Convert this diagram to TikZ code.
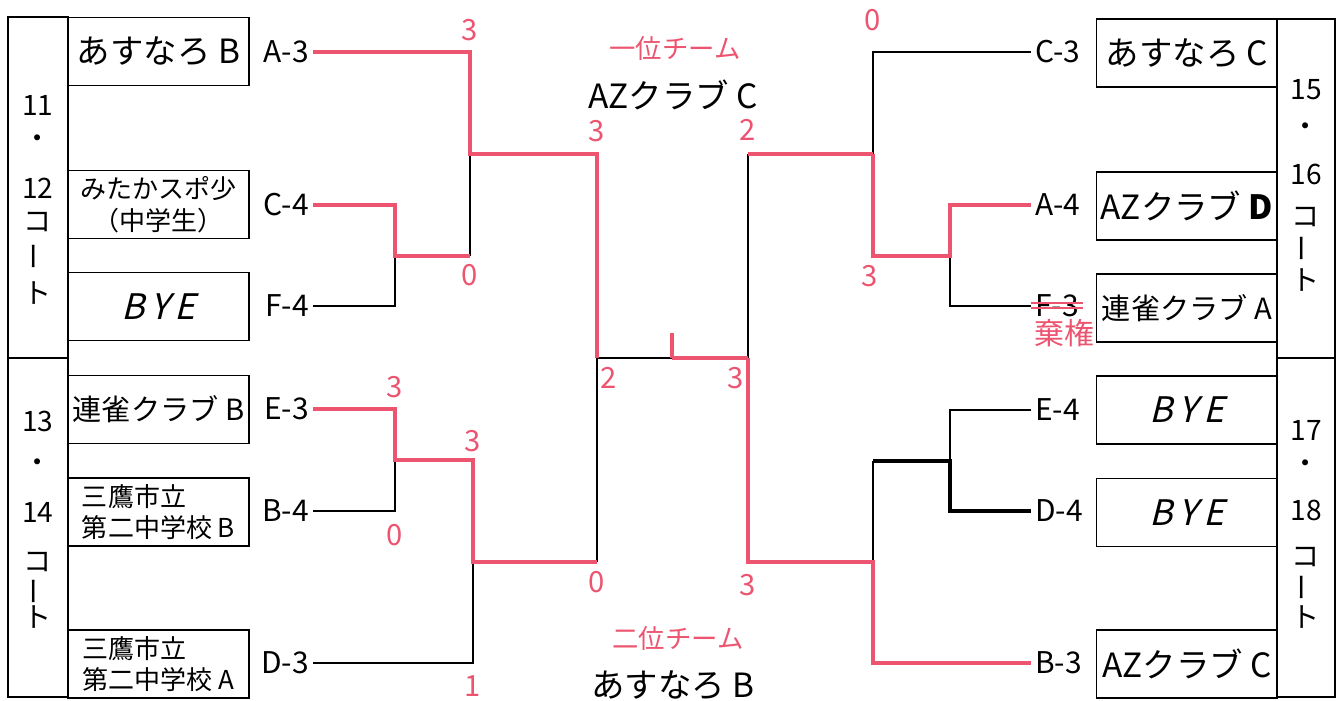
\documentclass[tikz,border=0pt]{standalone}
\usepackage{fontspec}
\setmainfont{Noto Sans CJK JP}
\newfontfamily\byefont[FakeSlant=0.25]{Noto Sans CJK JP}
\definecolor{rd}{RGB}{236,84,112}

\begin{document}
\begin{tikzpicture}[x=0.01cm, y=-0.01cm,
  team/.style={draw, line width=0.5pt, minimum width=1.81cm, minimum height=0.68cm, inner sep=0pt, align=center},
  big/.style={font=\fontsize{9.5}{10}\selectfont},
  mid/.style={font=\fontsize{8.3}{10}\selectfont},
  small/.style={font=\fontsize{7.4}{9}\selectfont},
  court/.style={font=\fontsize{8}{9}\selectfont},
  lbl/.style={inner sep=1pt, font=\fontsize{8.5}{9}\selectfont},
  sc/.style={text=rd, inner sep=0pt, font=\fontsize{8.3}{9}\selectfont},
  win/.style={draw=rd, line width=0.9pt},
  lose/.style={draw=black, line width=0.45pt},
  bye/.style={font=\fontsize{10}{11}\byefont}]
\useasboundingbox (0,0) rectangle (1341,701);

%% 左右两侧的コート框
\draw[line width=0.5pt] (8,17) rectangle (68,358);
\draw[line width=0.5pt] (8,358) rectangle (68,697);
\draw[line width=0.5pt] (1277,19) rectangle (1335,358);
\draw[line width=0.5pt] (1277,358) rectangle (1335,697);

\foreach \t/\y [count=\i] in {11/105, ・/142, 12/188, コ/222, ト/293}
  \node[court] (cA\i) at (38,\y) {\t};
\node[court, rotate=90] (cA6) at (38,256) {ー};
\foreach \t/\y [count=\i] in {13/421, ・/466, 14/512, コ/562, ト/617}
  \node[court] (cB\i) at (38,\y) {\t};
\node[court, rotate=90] (cB6) at (38,591) {ー};
\foreach \t/\y [count=\i] in {15/90, ・/130, 16/174, コ/217, ト/280}
  \node[court] (cC\i) at (1306,\y) {\t};
\node[court, rotate=90] (cC6) at (1306,248) {ー};
\foreach \t/\y [count=\i] in {17/430, ・/467, 18/510, コ/557, ト/617}
  \node[court] (cD\i) at (1306,\y) {\t};
\node[court, rotate=90] (cD6) at (1306,587) {ー};

%% 队伍
\node[team, big] (L1) at (158.5,51.5) {あすなろ B};
\node[team, small] (L2) at (158.5,204.5) {みたかスポ少\\（中学生）};
\node[team, bye] (L3) at (158.5,306.5) {B\,Y\,E};
\node[team, mid] (L4) at (158.5,409.5) {連雀クラブ B};
\node[team, small, align=left] (L5) at (158.5,512) {三鷹市立\\第二中学校 B};
\node[team, small, align=left] (L6) at (158.5,664) {三鷹市立\\第二中学校 A};

\node[team, big] (R1) at (1187,53) {あすなろ C};
\node[team, big] (R2) at (1187,206) {AZクラブ \textbf{D}};
\node[team, mid] (R3) at (1187,308) {連雀クラブ A};
\node[team, bye] (R4) at (1187,410) {B\,Y\,E};
\node[team, bye] (R5) at (1187,512.5) {B\,Y\,E};
\node[team, big] (R6) at (1187,664) {AZクラブ C};

\node[lbl, anchor=east] (lA3) at (313,52) {A-3};
\node[lbl, anchor=east] (lC4) at (313,205) {C-4};
\node[lbl, anchor=east] (lF4) at (313,306) {F-4};
\node[lbl, anchor=east] (lE3) at (313,409) {E-3};
\node[lbl, anchor=east] (lB4) at (313,511) {B-4};
\node[lbl, anchor=east] (lD3) at (313,663) {D-3};

\node[lbl, anchor=west] (rC3) at (1031,52) {C-3};
\node[lbl, anchor=west] (rA4) at (1031,205) {A-4};
\node[lbl, anchor=west] (rF3) at (1031,306) {F-3};
\node[lbl, anchor=west] (rE4) at (1031,410) {E-4};
\node[lbl, anchor=west] (rD4) at (1031,511) {D-4};
\node[lbl, anchor=west] (rB3) at (1031,663) {B-3};

%% 对阵线的拐点
\coordinate (s1) at (470,154);
\coordinate (q1) at (395,256);
\coordinate (q1r) at (470,256);
\coordinate (f1) at (597,154);
\coordinate (c1) at (597,358);
\coordinate (m) at (672,358);
\coordinate (c2) at (748,358);
\coordinate (f2) at (748,154);
\coordinate (s2) at (873,154);
\coordinate (s2b) at (873,256);
\coordinate (q2) at (950,256);
\coordinate (q3) at (395,460);
\coordinate (s3t) at (473,460);
\coordinate (s3) at (473,562);
\coordinate (f3) at (597,562);
\coordinate (f4) at (748,562);
\coordinate (s4) at (873,562);
\coordinate (s4t) at (873,461);
\coordinate (q4) at (950,461);

%% 输的一方(黑线)先画
\draw[lose] (lF4.east) -| (q1);
\draw[lose] (q1r) -- (s1);
\draw[lose] (c1) -- (m);
\draw[lose] (f2) -- (c2);
\draw[lose] (rC3.west) -| (s2);
\draw[lose] (q2) |- (rF3.west);
\draw[lose] (lB4.east) -| (q3);
\draw[lose] (lD3.east) -| (s3);
\draw[lose] (f3) -- (c1);
\draw[lose] (s4) -- (s4t);
\draw[lose, line width=0.9pt] (s4t) -- (q4) |- (rD4.west);
\draw[lose] (q4) |- (rE4.west);

%% 赢的一方(红线)
\draw[win] (lA3.east) -| (s1) -- (f1) -- (c1);
\draw[win] (lC4.east) -| (q1) -- (q1r);
\draw[win] (m) -- (c2);
\draw[win] (m) -- ++(0,-25);
\draw[win] (f2) -- (s2);
\draw[win] (s2) -- (s2b) -- (q2) |- (rA4.west);
\draw[win] (lE3.east) -| (q3) -- (s3t) -- (s3) -- (f3);
\draw[win] (c2) -- (f4) -- (s4) |- (rB3.west);

%% 比分
\node[sc] (n1) at (470,30) {3};
\node[sc] (n2) at (470,275) {0};
\node[sc] (n3) at (597,131) {3};
\node[sc] (n4) at (609,378) {2};
\node[sc] (n5) at (736,378) {3};
\node[sc] (n6) at (748,130) {2};
\node[sc] (n7) at (873,20) {0};
\node[sc] (n8) at (870,276) {3};
\node[sc] (n9) at (395,387) {3};
\node[sc] (n10) at (395,535) {0};
\node[sc] (n11) at (473,441) {3};
\node[sc] (n12) at (597,582) {0};
\node[sc] (n13) at (473,686) {1};
\node[sc] (n14) at (748,585) {3};

%% 棄権
\draw[rd, line width=0.5pt] ([yshift=0.9pt]rF3.west) -- ([yshift=0.9pt]rF3.east);
\draw[rd, line width=0.5pt] ([yshift=-0.5pt]rF3.west) -- ([yshift=-0.5pt]rF3.east);
\node[text=rd, font=\fontsize{8.5}{9}\selectfont] (kiken) at (1064,333) {棄権};

%% 中间的名次
\node[text=rd, font=\fontsize{7.5}{8}\selectfont] (first) at (675,48) {一位チーム};
\node[big] (firstteam) at (673,95) {AZクラブ C};
\node[text=rd, font=\fontsize{7.5}{8}\selectfont] (second) at (678,638) {二位チーム};
\node[big] (secondteam) at (673,685) {あすなろ B};
\end{tikzpicture}
\end{document}
